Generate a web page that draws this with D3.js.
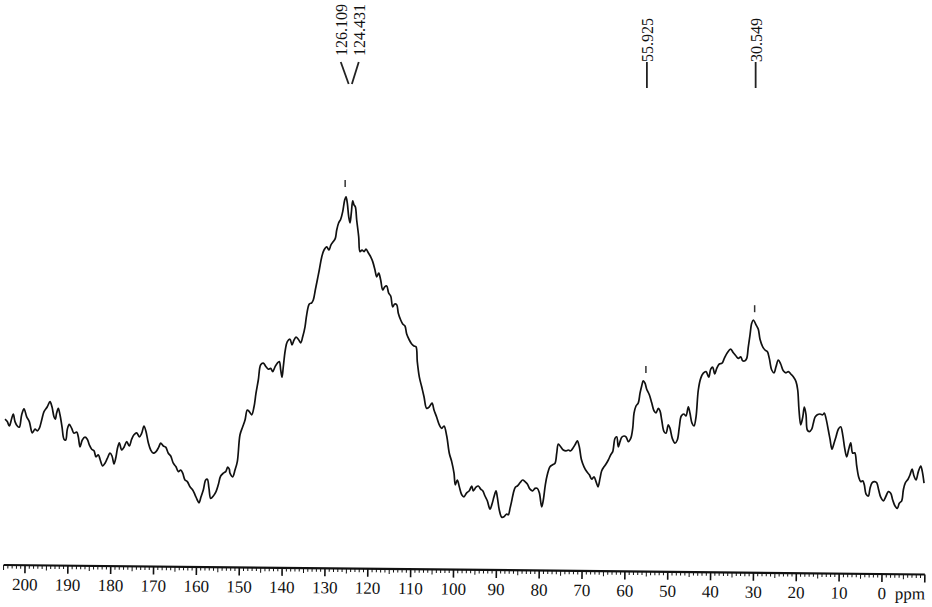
<!DOCTYPE html>
<html><head><meta charset="utf-8">
<script src="https://cdn.jsdelivr.net/npm/d3@7"></script>
<style>html,body{margin:0;padding:0;background:#fff;} svg{display:block;}</style>
</head><body>
<svg id="c" width="932" height="607"></svg>
<script>
// ---- data ----
const ppm = [204.67,204.14,203.67,203.11,202.74,202.34,201.80,201.34,200.78,200.24,199.61,199.00,198.30,197.67,197.14,196.67,196.11,195.57,194.80,194.17,193.71,193.24,192.94,192.61,192.24,191.84,191.37,190.90,190.51,190.13,189.67,189.11,188.57,187.94,187.57,187.17,186.63,186.00,185.47,185.00,184.44,183.90,183.44,182.90,182.50,181.87,181.34,180.80,180.17,179.70,179.24,178.77,178.47,178.00,177.44,176.90,176.27,175.67,175.11,174.57,173.94,173.33,172.77,172.24,171.77,171.23,170.67,170.06,169.43,168.80,168.34,167.73,167.17,166.56,166.00,165.40,164.77,164.23,163.67,163.20,162.67,162.13,161.50,160.87,160.33,159.80,159.40,158.93,158.40,157.84,157.46,157.07,156.67,156.06,155.43,154.90,154.34,153.73,153.17,152.70,152.33,
152.17,151.54,151.00,150.46,149.83,149.20,148.66,148.13,147.66,147.10,146.56,146.10,145.56,145.00,144.39,143.76,143.23,142.67,142.20,141.66,141.13,140.66,140.33,140.03,139.73,139.26,138.79,138.16,137.70,137.23,136.76,136.23,135.67,135.20,134.66,134.27,133.66,133.10,132.73,132.26,131.79,131.33,130.77,130.23,129.60,129.06,128.60,128.06,127.59,127.26,126.80,126.33,125.86,125.40,125.09,124.79,124.46,124.16,123.86,123.53,123.23,122.92,122.60,122.13,121.83,121.36,120.89,120.43,119.89,119.33,118.86,118.33,117.93,117.46,117.00,116.53,116.06,115.60,115.13,114.66,114.20,113.73,113.26,112.89,112.33,111.86,111.33,110.93,110.32,109.76,109.23,108.76,108.46,107.99,107.43,106.89,106.26,105.65,105.02,104.56,103.93,103.32,102.76,
102.22,101.59,100.99,100.43,99.89,99.59,99.12,98.65,98.09,97.56,96.93,96.32,95.76,95.39,94.76,94.22,93.66,93.19,92.66,92.12,91.49,91.02,90.56,90.09,89.79,89.32,88.76,88.22,87.59,87.22,86.82,86.42,86.05,85.58,85.12,84.49,83.86,83.32,82.78,82.15,81.52,80.99,80.45,79.98,79.42,79.05,78.58,78.12,77.49,76.86,76.32,75.92,75.55,74.99,74.38,73.75,73.22,72.66,72.19,71.65,71.12,70.65,70.18,69.55,68.92,68.31,67.75,67.22,66.75,66.28,65.82,65.42,64.88,64.42,63.88,63.32,62.85,62.32,61.92,61.55,61.15,60.75,60.22,59.75,59.21,58.65,58.19,57.88,57.42,56.88,56.48,56.09,55.71,55.32,54.92,54.31,53.75,53.22,52.75,52.21,51.82,51.42,50.88,50.42,49.88,49.48,48.95,48.32,47.78,47.31,46.85,46.22,45.75,45.21,44.82,44.35,43.88,43.41,42.88,42.32,41.71,41.08,40.45,39.98,39.52,39.05,38.58,37.98,37.35,36.81,36.11,35.32,34.71,34.08,33.54,32.98,32.52,31.98,31.58,31.21,30.81,30.42,30.04,29.41,28.88,28.48,27.85,27.31,26.78,26.31,25.75,25.21,24.75,24.21,23.65,23.04,22.41,21.87,21.31,20.71,20.08,19.68,19.38,18.98,18.51,18.14,17.74,17.44,16.97,16.41,16.04,15.64,15.11,14.48,13.85,13.47,13.08,12.54,12.14,11.68,11.21,10.74,10.21,9.65,9.18,8.71,8.25,7.78,7.31,6.85,6.38,5.91,5.44,4.98,4.51,4.14,3.74,3.20,2.81,2.34,1.71,1.24,0.78,0.31,-0.30,-0.93,-1.46,-2.02,-2.49,-3.03,-3.57,-4.03,-4.59,-4.97,-5.43,-6.06,-6.53,-7.00,-7.46,-7.93,-8.47,-9.03,-9.40,-9.80];
const intensity = [35.2,34.6,33.5,35.4,36.5,34.6,33.5,33.2,36.3,37.8,35.8,34.6,31.8,32.7,32.3,32.9,35.0,37.1,38.3,39.6,38.3,35.8,35.2,36.8,37.9,36.3,33.3,30.2,30.0,32.7,33.9,32.9,31.7,32.0,30.8,28.3,30.0,30.7,30.2,28.8,27.7,27.3,25.8,26.3,25.2,23.5,24.2,25.4,26.7,26.0,24.0,25.8,27.7,29.3,27.5,28.2,29.6,28.5,30.2,31.3,31.8,30.8,31.7,33.5,32.1,29.3,27.5,26.7,27.1,28.2,29.2,28.5,28.2,26.7,26.0,24.2,23.3,22.1,22.5,21.7,20.0,19.6,18.3,17.5,16.3,15.0,14.3,15.8,17.5,20.0,20.2,17.9,15.4,16.0,17.1,18.8,21.0,21.7,22.1,23.2,22.7,
21.7,20.8,22.5,24.6,31.3,33.3,35.0,37.5,37.1,36.3,38.3,41.7,45.0,48.8,49.2,48.3,47.7,47.9,47.1,48.3,49.2,49.6,47.5,45.7,48.3,52.5,54.6,55.2,53.8,55.0,55.7,55.2,54.3,55.8,58.3,61.3,64.0,64.3,65.0,67.5,70.0,72.5,75.7,77.5,78.3,77.5,78.8,79.6,80.4,82.5,84.3,85.2,87.1,90.0,90.8,89.2,85.8,84.3,86.7,89.8,88.8,88.3,85.0,80.8,77.1,77.5,77.1,77.7,76.8,75.8,74.6,72.5,70.8,71.7,70.0,67.5,68.3,68.5,66.7,66.0,63.3,64.0,63.8,61.7,60.0,59.0,58.5,56.5,55.0,54.0,53.5,53.3,49.6,45.8,43.3,40.8,37.9,38.3,39.2,37.5,35.7,33.8,32.9,
33.5,31.0,26.7,24.6,21.7,18.8,20.0,18.3,16.3,15.8,16.8,17.3,18.5,17.3,18.2,18.5,17.7,17.3,16.0,14.8,12.7,14.0,15.8,17.3,15.8,12.5,10.7,10.8,11.5,11.3,12.9,14.8,16.7,18.2,18.5,19.3,20.0,19.6,19.0,17.7,17.3,17.9,17.9,16.8,13.3,15.0,18.8,21.3,23.3,23.8,24.2,26.7,29.0,28.3,27.5,27.3,27.5,27.3,27.9,28.8,29.8,28.3,25.2,23.3,22.1,21.3,20.2,20.8,19.6,18.3,20.4,22.3,23.3,24.0,25.0,26.3,27.1,30.4,30.8,28.3,29.6,30.7,31.0,30.8,29.6,30.4,32.9,36.7,38.5,39.3,41.7,43.5,44.8,44.2,42.7,41.3,39.3,37.3,36.8,37.9,37.3,35.0,32.1,31.7,33.8,32.9,30.4,29.2,30.0,33.2,36.0,36.5,36.0,38.3,36.7,34.2,33.5,35.8,42.5,45.4,46.7,47.1,45.7,47.7,48.2,46.5,47.9,49.0,49.2,50.4,51.8,52.7,51.8,51.0,50.4,50.8,49.8,49.8,50.4,53.3,56.3,59.2,60.0,58.8,57.7,55.2,53.3,52.5,52.1,50.4,47.5,46.8,48.3,50.0,49.0,47.3,46.8,47.1,46.5,45.8,44.6,42.5,37.5,33.8,35.7,38.2,36.3,32.5,32.1,32.7,34.2,35.7,36.3,36.5,36.3,36.7,35.4,32.5,30.2,27.7,29.2,30.8,32.7,33.3,31.3,27.9,25.8,27.7,29.3,26.7,26.8,23.5,20.7,19.6,19.8,18.8,16.5,16.0,17.9,19.3,19.6,19.3,17.5,15.7,14.8,16.0,17.1,16.7,15.0,13.5,12.9,14.2,14.8,17.5,19.3,20.2,21.3,22.7,21.0,20.0,22.1,23.5,22.1,19.2];

const majorTicks = [200,190,180,170,160,150,140,130,120,110,100,90,80,70,60,50,40,30,20,10,0];
const tickLabels = ["200","190","180","170","160","150","140","130","120","110","100","90","80","70","60","50","40","30","20","10","0"];
const unitLabel = "ppm";
const peakLabels = ["126.109","124.431","55.925","30.549"];
const peakPpm = [126.109,124.431,55.925,30.549];
const markerPpm = [126.109,55.925,30.549];
const markerTop = [95,48.5,63.7];

// ---- drawing ----
const serif = "'Liberation Serif','Times New Roman',serif";
const svg = d3.select("#c");
svg.append("rect").attr("width",932).attr("height",607).attr("fill","#fff");

const x = d3.scaleLinear().domain([205,-10]).range([3.6,924.9]);
const y = d3.scaleLinear().domain([0,100]).range([560,160]);

const line = d3.line()
  .x((d,i)=>x(ppm[i]))
  .y((d,i)=>y(intensity[i]))
  .curve(d3.curveCatmullRom.alpha(0.5));

svg.append("path").datum(ppm)
  .attr("d",line)
  .attr("fill","none")
  .attr("stroke","#111")
  .attr("stroke-width",1.7)
  .attr("stroke-linejoin","round");

// axis (scan is slightly tilted)
const axisY = 565, tilt = 0.59;
const ag = svg.append("g")
  .attr("transform",`rotate(${tilt},${x(205)},${axisY}) translate(0,${axisY})`);

ag.append("line").attr("x1",x(205)).attr("x2",x(-10)).attr("y1",0).attr("y2",0)
  .attr("stroke","#111").attr("stroke-width",2.2);

const minor = d3.range(-10,206,1);
ag.selectAll("line.minor").data(minor).enter().append("line")
  .attr("class","minor")
  .attr("x1",d=>x(d)).attr("x2",d=>x(d))
  .attr("y1",0)
  .attr("y2",d=> d%10===0 ? 8 : (d%5===0 ? 5 : 3.5))
  .attr("stroke","#111")
  .attr("stroke-width",d=> d%10===0 ? 1.6 : 1);

ag.selectAll("text.tl").data(majorTicks).enter().append("text")
  .attr("class","tl")
  .attr("x",d=>x(d)).attr("y",25)
  .attr("text-anchor","middle")
  .attr("font-family",serif).attr("font-size",17)
  .attr("fill","#111")
  .text((d,i)=>tickLabels[i]);

ag.append("text").attr("x",x(0)+13).attr("y",25)
  .attr("font-family",serif).attr("font-size",17).attr("fill","#111")
  .text(unitLabel);

// peak annotations
const shift = 4.5;
const tops = peakPpm.map(p=>x(p)+shift);
const moved = peakPpm.map(()=>false);
for (let i=0;i<tops.length-1;i++){
  if (tops[i+1]-tops[i] < 18){
    const m=(tops[i]+tops[i+1])/2;
    tops[i]=m-9; tops[i+1]=m+9; moved[i]=moved[i+1]=true;
  }
}
const ann = svg.append("g");
peakPpm.forEach((p,i)=>{
  const bx = x(p)+shift;
  const lineTop = 62, lineBot = moved[i] ? 84 : 88;
  ann.append("line")
    .attr("x1",tops[i]).attr("y1",lineTop)
    .attr("x2",moved[i] ? bx + (i===0?2.5:-1.5) : bx).attr("y2",lineBot)
    .attr("stroke","#222").attr("stroke-width",1.8);
  ann.append("text")
    .attr("transform",`translate(${tops[i]+6},${moved[i]?56:62}) rotate(-90)`)
    .attr("font-family",serif).attr("font-size",16).attr("fill","#111")
    .text(peakLabels[i]);
});

// peak-pick markers
markerPpm.forEach((p,i)=>{
  ann.append("line")
    .attr("x1",x(p)+3.5).attr("x2",x(p)+3.5)
    .attr("y1",y(markerTop[i])).attr("y2",y(markerTop[i])+7)
    .attr("stroke","#333").attr("stroke-width",1.5);
});
</script>
</body></html>
